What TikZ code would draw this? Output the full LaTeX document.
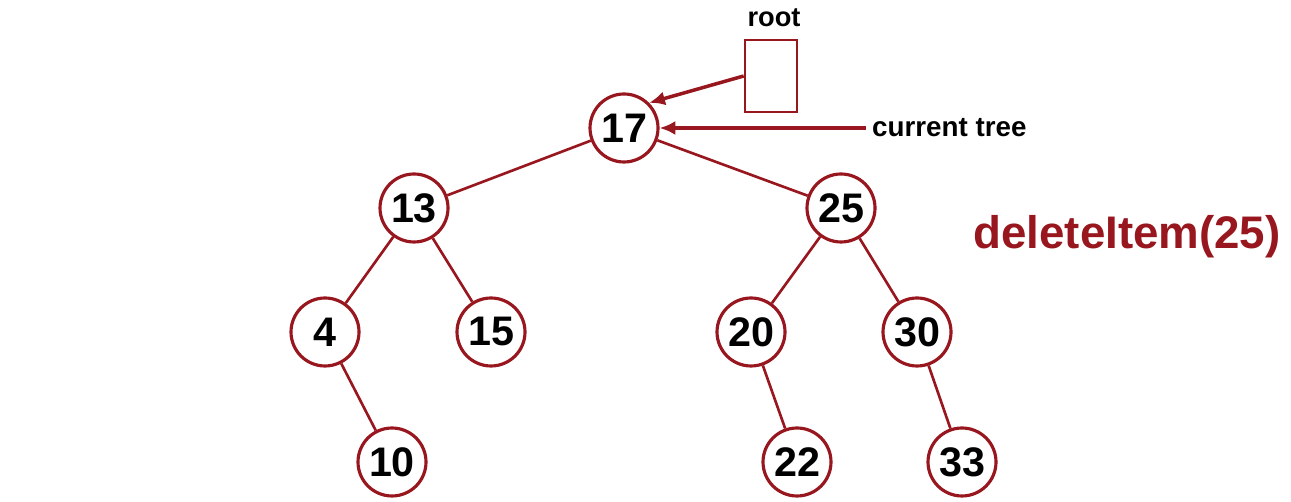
\documentclass[tikz,border=0pt]{standalone}
\usepackage{fontspec}
\setmainfont{Liberation Sans}
\usepackage{tikz}
\usetikzlibrary{arrows.meta}
\definecolor{treered}{RGB}{152,22,30}

\begin{document}
\begin{tikzpicture}[x=0.02cm,y=-0.02cm,
  key/.style={circle,draw=treered,line width=1.8pt,fill=white,minimum size=1.36cm,inner sep=0pt,font=\fontsize{23.5}{25}\selectfont\bfseries},
  branch/.style={draw=treered,line width=1.5pt},
  pointer/.style={draw=treered,line width=2pt,-{Latex[length=9pt,width=8pt]}}]
\useasboundingbox (0,0) rectangle (1291,502);
% the tree
\node[key] (k17) at (624,128) {17};
\node[key] (k13) at (414,208) {13};
\node[key] (k25) at (841,208) {25};
\node[key] (k4) at (325,332) {4};
\node[key] (k15) at (491,332) {15};
\node[key] (k20) at (751,332) {20};
\node[key] (k30) at (917,332) {30};
\node[key] (k10) at (392,462) {10};
\node[key] (k22) at (797,462) {22};
\node[key] (k33) at (962,462) {33};
\draw[branch] (k17) -- (k13) (k17) -- (k25);
\draw[branch] (k13) -- (k4) (k13) -- (k15);
\draw[branch] (k25) -- (k20) (k25) -- (k30);
\draw[branch] (k4) -- (k10) (k20) -- (k22) (k30) -- (k33);
% root pointer
\node[draw=treered,line width=1.5pt,minimum width=1.04cm,minimum height=1.44cm] (rootbox) at (771,76) {};
\node[font=\fontsize{15.5}{17}\selectfont\bfseries] (rootlbl) at (774,18) {root};
\draw[pointer] (rootbox.west) -- (k17.north east);
% current tree pointer
\node[anchor=west,font=\fontsize{15.8}{17}\selectfont\bfseries] (curlbl) at (866,128) {current tree};
\draw[pointer] (curlbl.west) -- (k17.east);
\node[text=treered,font=\fontsize{26}{28}\selectfont\bfseries] (op) at (1127,237) {deleteItem(25)};
\end{tikzpicture}
\end{document}
